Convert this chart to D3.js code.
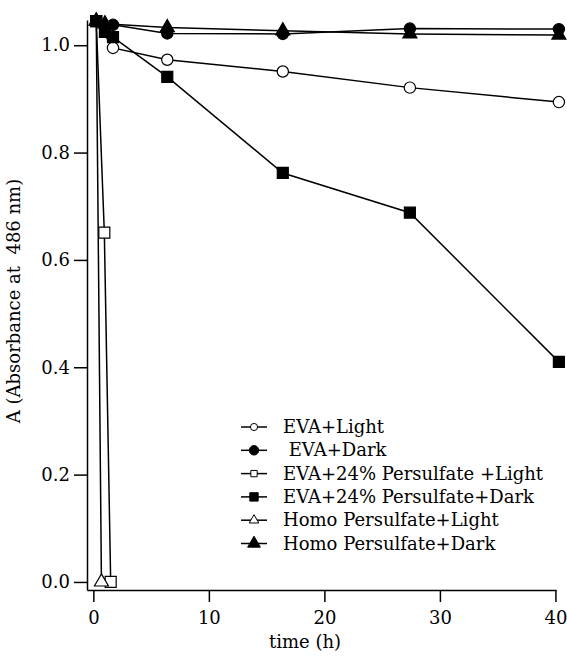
<!DOCTYPE html>
<html lang="en">
<head>
  <meta charset="UTF-8">
  <title>Absorbance at 486 nm vs time</title>
  <script src="https://d3js.org/d3.v7.min.js"></script>
  <style>
    body { margin: 0; background: #fff; }
    svg { display: block; }
    text { font-family: "DejaVu Serif", "Liberation Serif", serif; fill: #000; }
    .axis path, .axis line { stroke: #000; stroke-width: 1.5px; }
    .axis text { font-size: 18px; font-family: "DejaVu Serif", serif; }
    .series { fill: none; stroke: #000; stroke-width: 1.5px; }
  </style>
</head>
<body>
<svg width="567" height="656"></svg>

<script>
  // series: [time (h), absorbance]
  const evaLight = [[0.25, 1.045], [1.7, 0.995], [6.4, 0.973], [16.4, 0.951], [27.4, 0.921], [40.3, 0.894]];
  const evaDark = [[0.25, 1.045], [1.7, 1.038], [6.4, 1.022], [16.4, 1.021], [27.4, 1.031], [40.3, 1.030]];
  const evaPersLight = [[0.25, 1.045], [0.95, 0.651], [1.5, 0.0]];
  const evaPersDark = [[0.25, 1.045], [1.0, 1.025], [1.7, 1.015], [6.4, 0.941], [16.4, 0.762], [27.4, 0.688], [40.3, 0.410]];
  const homoLight = [[0.25, 1.045], [0.7, 0.0]];
  const homoDark = [[0.25, 1.045], [1.0, 1.040], [6.4, 1.033], [16.4, 1.027], [27.4, 1.021], [40.3, 1.019]];

  const seriesNames = ["EVA+Light", " EVA+Dark", "EVA+24% Persulfate +Light",
                       "EVA+24% Persulfate+Dark", "Homo Persulfate+Light", "Homo Persulfate+Dark"];
  const xTicks = [0, 10, 20, 30, 40];
  const yTicks = [0.0, 0.2, 0.4, 0.6, 0.8, 1.0];

  const series = [
    {name: seriesNames[0], data: evaLight, shape: d3.symbolCircle, filled: false},
    {name: seriesNames[1], data: evaDark, shape: d3.symbolCircle, filled: true},
    {name: seriesNames[2], data: evaPersLight, shape: d3.symbolSquare, filled: false},
    {name: seriesNames[3], data: evaPersDark, shape: d3.symbolSquare, filled: true},
    {name: seriesNames[4], data: homoLight, shape: d3.symbolTriangle, filled: false},
    {name: seriesNames[5], data: homoDark, shape: d3.symbolTriangle, filled: true}
  ];

  const svg = d3.select("svg");

  // axes are offset a little from the data, like the original plot
  const x = d3.scaleLinear().domain([-0.55, 40.05]).range([87, 556]);
  const y = d3.scaleLinear().domain([-0.015, 1.047]).range([590, 20]);

  const sizeOf = s => s === d3.symbolSquare ? 121 : s === d3.symbolCircle ? 100 : 85;

  svg.append("g")
    .attr("class", "axis")
    .attr("transform", "translate(0,590)")
    .call(d3.axisBottom(x).tickValues(xTicks).tickSize(12).tickSizeOuter(0).tickPadding(9));

  svg.append("g")
    .attr("class", "axis")
    .attr("transform", "translate(87,0)")
    .call(d3.axisLeft(y).tickValues(yTicks).tickFormat(d3.format(".1f")).tickSize(13).tickSizeOuter(0).tickPadding(4));

  const line = d3.line().x(d => x(d[0])).y(d => y(d[1]));

  svg.selectAll(".series")
    .data(series)
    .join("path")
    .attr("class", "series")
    .attr("d", d => line(d.data));

  series.forEach(s => {
    svg.append("g")
      .selectAll("path")
      .data(s.data)
      .join("path")
      .attr("transform", d => `translate(${x(d[0])},${y(d[1])})`)
      .attr("d", d3.symbol().type(s.shape).size(sizeOf(s.shape)))
      .attr("fill", s.filled ? "#000" : "#fff")
      .attr("stroke", "#000")
      .attr("stroke-width", 1.2);
  });

  // axis titles
  svg.append("text")
    .attr("x", 305).attr("y", 648)
    .attr("text-anchor", "middle")
    .attr("font-size", 18)
    .text("time (h)");

  svg.append("text")
    .attr("transform", "translate(20,301) rotate(-90)")
    .attr("text-anchor", "middle")
    .attr("font-size", 18)
    .style("white-space", "pre")
    .text("A (Absorbance at  486 nm)");

  // legend
  const legend = svg.append("g").attr("transform", "translate(0,427)");
  const row = legend.selectAll("g")
    .data(series)
    .join("g")
    .attr("transform", (d, i) => `translate(0,${i * 23.3})`);

  row.append("line")
    .attr("x1", 241).attr("x2", 267)
    .attr("stroke", "#000").attr("stroke-width", 1.5);

  row.append("path")
    .attr("transform", "translate(254,0)")
    .attr("d", d => d3.symbol().type(d.shape).size(d.filled ? 70 : 40)())
    .attr("fill", d => d.filled ? "#000" : "#fff")
    .attr("stroke", "#000");

  row.append("text")
    .attr("x", 283).attr("y", 6)
    .attr("font-size", 18)
    .style("white-space", "pre")
    .text(d => d.name);
</script>
</body>
</html>
